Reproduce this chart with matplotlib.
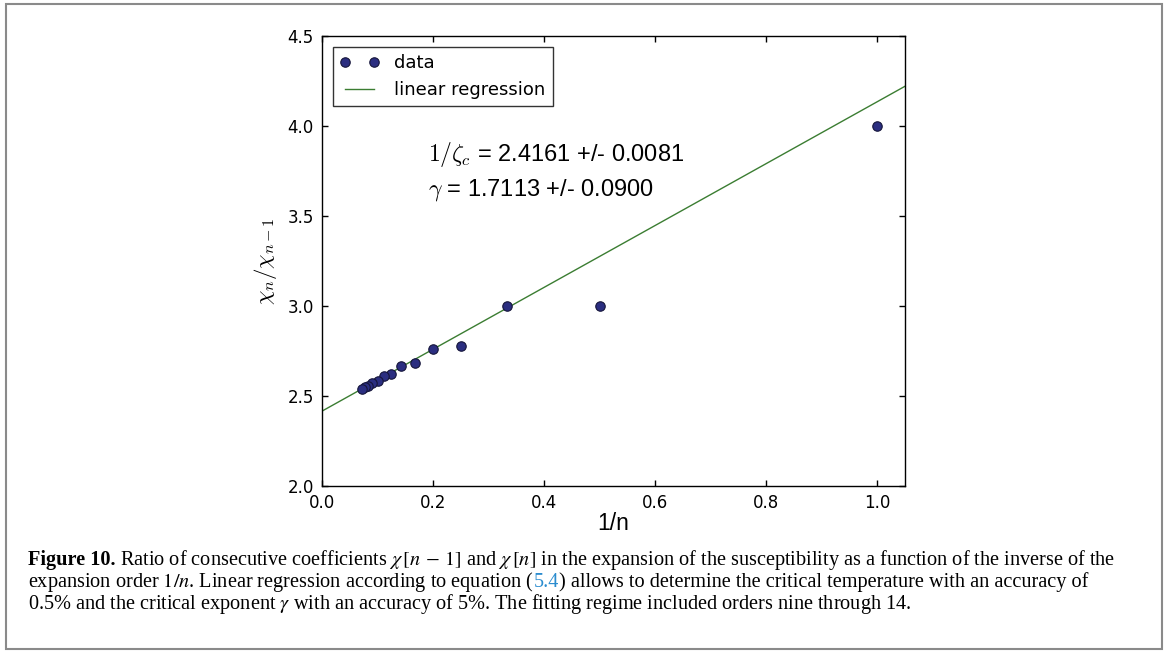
import numpy as np
import matplotlib
matplotlib.use('Agg')
import matplotlib.pyplot as plt
from matplotlib.patches import Rectangle

# series ratios chi_n / chi_{n-1}, orders 1..14
orders = list(range(1, 15))
ratios = [4.0, 3.0, 3.0, 2.778, 2.760, 2.681, 2.665, 2.623,
          2.609, 2.585, 2.574, 2.558, 2.550, 2.537]

# fit result printed in the plot
inv_zc = 2.4161
inv_zc_err = 0.0081
gamma = 1.7113
gamma_err = 0.0900

xticks = [0.0, 0.2, 0.4, 0.6, 0.8, 1.0]
yticks = [2.0, 2.5, 3.0, 3.5, 4.0, 4.5]

plt.rcParams['font.family'] = 'DejaVu Sans'
plt.rcParams['mathtext.fontset'] = 'cm'
plt.rcParams['xtick.direction'] = 'in'
plt.rcParams['ytick.direction'] = 'in'
plt.rcParams['xtick.top'] = True
plt.rcParams['ytick.right'] = True
plt.rcParams['xtick.major.size'] = 4
plt.rcParams['ytick.major.size'] = 4
plt.rcParams['xtick.major.pad'] = 6
plt.rcParams['ytick.major.pad'] = 6

fig = plt.figure(figsize=(11.68, 6.53), dpi=100)
ax = fig.add_axes([0.2757, 0.2557, 0.4991, 0.6892])

x = 1.0 / np.array(orders)
ax.plot(x, ratios, 'o', color='#2b2e80', mec='#15153a', mew=0.8, ms=6.8,
        label='data', zorder=3)
slope = inv_zc * (gamma - 1.0)
ax.axline((0.0, inv_zc), slope=slope, color='#3b7d32', lw=1.0,
          label='linear regression', zorder=2)

ax.set_xlim(0.0, 1.05)
ax.set_ylim(2.0, 4.5)
ax.set_xticks(xticks)
ax.set_yticks(yticks)
ax.tick_params(labelsize=12, width=1)
for s in ax.spines.values():
    s.set_linewidth(1.0)

ax.set_xlabel('1/n', fontsize=16.5, family='Liberation Sans', labelpad=0)
ax.set_ylabel(r'$\chi_n/\chi_{n-1}$', fontsize=16.5, labelpad=6)

leg = ax.legend(loc='upper left', numpoints=2, fancybox=False, fontsize=13,
                frameon=True, borderaxespad=0.6, handlelength=2.2)
leg.get_frame().set_edgecolor('black')
leg.get_frame().set_linewidth(1.0)

ax.text(0.19, 3.84, r'$1/\zeta_c$ = %.4f +/- %.4f' % (inv_zc, inv_zc_err),
        fontsize=17, family='Liberation Sans', va='center')
ax.text(0.19, 3.645, r'$\gamma$ = %.4f +/- %.4f' % (gamma, gamma_err),
        fontsize=17, family='Liberation Sans', va='center')

# frame around figure + caption
fig.patches.append(Rectangle((6 / 1168, 4 / 653), 1156 / 1168, 645 / 653,
                             transform=fig.transFigure, fill=False,
                             edgecolor='#8a8a8a', lw=1.5))

renderer = fig.canvas.get_renderer()
cap = dict(family='Liberation Serif', fontsize=14.6, math_fontfamily='stix',
           va='baseline')


def put_line(pieces, x0, y):
    xx = x0
    for s, kw in pieces:
        t = fig.text(xx, y, s, **{**cap, **kw})
        bb = t.get_window_extent(renderer)
        xx += bb.width / fig.bbox.width


x0 = 28 / 1168
put_line([('Figure 10.', dict(weight='bold')),
          (' Ratio of consecutive coefficients $\\chi\\,[n\\,-\\,1]$ and '
           '$\\chi\\,[n]$ in the expansion of the susceptibility as a function '
           'of the inverse of the', {})], x0, 1 - 565 / 653)
put_line([('expansion order $1/n$. Linear regression according to equation (', {}),
          ('5.4', dict(color='#2a8ccf')),
          (') allows to determine the critical temperature with an accuracy of', {})],
         x0, 1 - 587 / 653)
put_line([('0.5% and the critical exponent $\\gamma$ with an accuracy of 5%. '
           'The fitting regime included orders nine through 14.', {})],
         x0, 1 - 609 / 653)

fig.savefig('out.png', dpi=100, facecolor='white')
